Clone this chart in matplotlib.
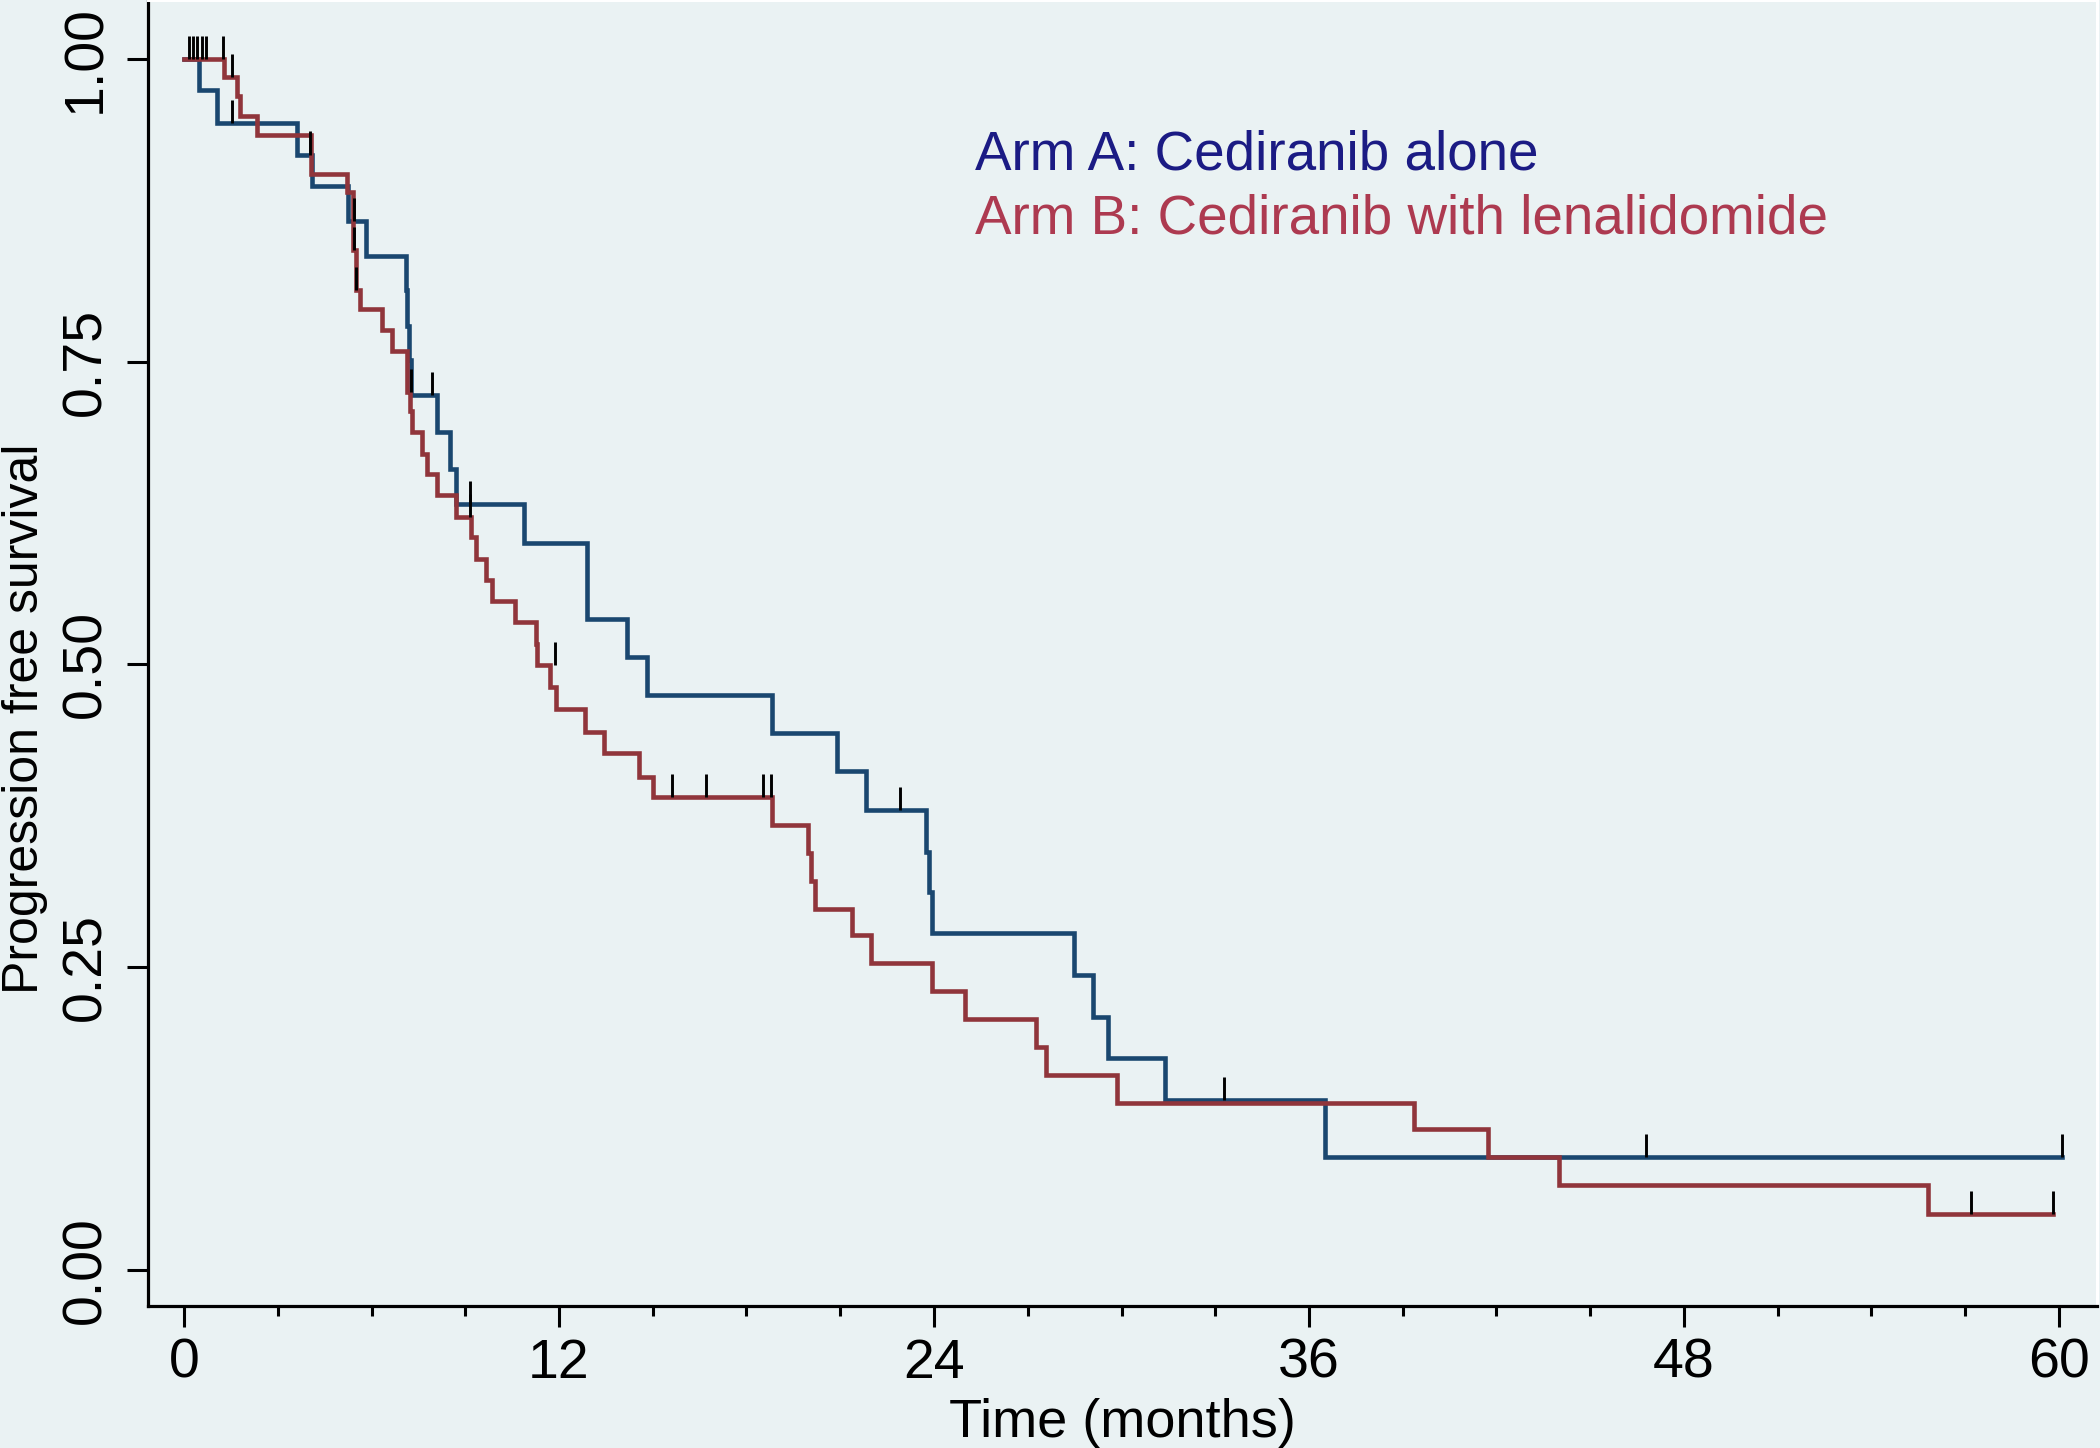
import matplotlib
matplotlib.use("Agg")
import matplotlib.pyplot as plt
from matplotlib import font_manager as fm

# ---------------- data ----------------
arm_a_times = [0, 0.48, 1.05, 3.6, 4.1, 5.26, 5.83, 7.09, 7.14, 7.2, 7.26, 8.08, 8.51, 8.7,
               10.88, 12.9, 14.19, 14.8, 18.8, 20.9, 21.82, 23.73, 23.84, 23.95, 28.48,
               29.1, 29.57, 31.39, 36.51]
arm_a_surv = [1.0, 0.974, 0.947, 0.921, 0.895, 0.866, 0.837, 0.809, 0.779, 0.751, 0.722,
              0.692, 0.661, 0.632, 0.600, 0.537, 0.506, 0.475, 0.443, 0.412, 0.380, 0.345,
              0.312, 0.278, 0.243, 0.209, 0.175, 0.140, 0.093]
arm_a_end = 60.1
arm_a_cens_t = [1.55, 4.03, 5.44, 7.92, 9.15, 22.9, 33.28, 46.8, 60.1]
arm_a_cens_s = [0.947, 0.921, 0.866, 0.722, 0.632, 0.380, 0.140, 0.093, 0.093]

arm_b_times = [0, 1.28, 1.71, 1.79, 2.33, 4.07, 5.2, 5.42, 5.5, 5.64, 6.32, 6.67, 7.12,
               7.24, 7.3, 7.6, 7.79, 8.11, 8.69, 9.2, 9.33, 9.65, 9.85, 10.59, 11.25, 11.31,
               11.71, 11.89, 12.82, 13.44, 14.55, 15.02, 18.83, 19.97, 20.05, 20.19, 21.39,
               21.97, 23.92, 25.0, 27.26, 27.57, 29.84, 39.36, 41.74, 44.0, 55.8]
arm_b_surv = [1.0, 0.985, 0.969, 0.953, 0.937, 0.905, 0.890, 0.842, 0.809, 0.793, 0.776,
              0.759, 0.725, 0.709, 0.692, 0.674, 0.657, 0.640, 0.622, 0.605, 0.587, 0.570,
              0.552, 0.535, 0.517, 0.499, 0.481, 0.463, 0.444, 0.427, 0.407, 0.390, 0.367,
              0.344, 0.321, 0.298, 0.276, 0.253, 0.230, 0.207, 0.184, 0.161, 0.138, 0.116,
              0.093, 0.070, 0.046]
arm_b_end = 59.8
arm_b_cens_t = [0.16, 0.3, 0.43, 0.57, 0.7, 1.24, 1.55, 5.43, 5.5, 7.25, 9.15, 11.87,
                15.63, 16.69, 18.52, 18.77, 57.2, 59.8]
arm_b_cens_s = [1.0, 1.0, 1.0, 1.0, 1.0, 1.0, 0.985, 0.842, 0.809, 0.725, 0.622, 0.499,
                0.390, 0.390, 0.390, 0.390, 0.046, 0.046]

x_ticks = [0, 12, 24, 36, 48, 60]
x_minor = [3, 6, 9, 15, 18, 21, 27, 30, 33, 39, 42, 45, 51, 54, 57]
y_ticks = [0.0, 0.25, 0.5, 0.75, 1.0]
y_labels = ["0.00", "0.25", "0.50", "0.75", "1.00"]
label_a = "Arm A: Cediranib alone"
label_b = "Arm B: Cediranib with lenalidomide"
x_title = "Time (months)"
y_title = "Progression free survival"

# ---------------- style ----------------
def has_font(name):
    try:
        fm.findfont(fm.FontProperties(family=name), fallback_to_default=False)
        return True
    except Exception:
        return False

main_font = "Liberation Sans" if has_font("Liberation Sans") else "DejaVu Sans"
narrow_font = "Liberation Sans Narrow" if has_font("Liberation Sans Narrow") else main_font
plt.rcParams["font.family"] = [main_font, "DejaVu Sans"]

BG = "#EAF2F3"
BLUE = "#1a476f"
RED = "#90353b"
TXT_A = "#1b1b84"
TXT_B = "#ad3a50"

W, H = 2100, 1448
fig = plt.figure(figsize=(W / 100, H / 100), dpi=100, facecolor=BG)
ax = fig.add_axes([148 / W, (H - 1306) / H, (2097 - 148) / W, 1306 / H])
ax.set_facecolor(BG)

# survival curves
ax.step(arm_a_times + [arm_a_end], arm_a_surv + [arm_a_surv[-1]], where="post",
        color=BLUE, lw=3.3, solid_joinstyle="miter", zorder=3)
ax.step(arm_b_times + [arm_b_end], arm_b_surv + [arm_b_surv[-1]], where="post",
        color=RED, lw=3.3, solid_joinstyle="miter", zorder=3)

# censor marks
tick_h = 0.019
ax.vlines(arm_a_cens_t, arm_a_cens_s, [s + tick_h for s in arm_a_cens_s],
          color="black", lw=2.1, zorder=4)
ax.vlines(arm_b_cens_t, arm_b_cens_s, [s + tick_h for s in arm_b_cens_s],
          color="black", lw=2.1, zorder=4)

ax.set_xlim(-1.152, (2097 - 184) / 31.25)
ax.set_ylim(-0.030, 1.0486)

ax.set_xticks(x_ticks)
ax.set_xticks(x_minor, minor=True)
ax.set_yticks(y_ticks)
ax.set_yticklabels(y_labels)
ax.tick_params(axis="both", which="major", length=15, width=2.2, color="black",
               labelsize=40, direction="out")
ax.tick_params(axis="x", which="major", pad=8)
ax.tick_params(axis="y", which="major", pad=11)
ax.tick_params(axis="x", which="minor", length=7.5, width=2.2, color="black")
ax.tick_params(axis="y", which="minor", left=False)
for lab in ax.get_xticklabels() + ax.get_yticklabels():
    lab.set_fontfamily(narrow_font)
for lab in ax.get_yticklabels():
    lab.set_rotation(90)
    lab.set_va("center")

for side in ("left", "bottom"):
    ax.spines[side].set_color("black")
    ax.spines[side].set_linewidth(2.3)
for side in ("top", "right"):
    ax.spines[side].set_color("white")
    ax.spines[side].set_linewidth(2.2)

# titles
fig.text(1122 / W, 1 - 1437 / H, x_title, ha="center", va="baseline", fontsize=39,
         color="black")
fig.text(25 / W, 1 - 719 / H, y_title, ha="center", va="center", rotation=90,
         fontsize=36, color="black")

# legend text
fig.text(975 / W, 1 - 169 / H, label_a, ha="left", va="baseline", fontsize=39.4,
         color=TXT_A)
fig.text(975 / W, 1 - 234 / H, label_b, ha="left", va="baseline", fontsize=39.4,
         color=TXT_B)

fig.savefig("out.png", dpi=100, facecolor=BG)
